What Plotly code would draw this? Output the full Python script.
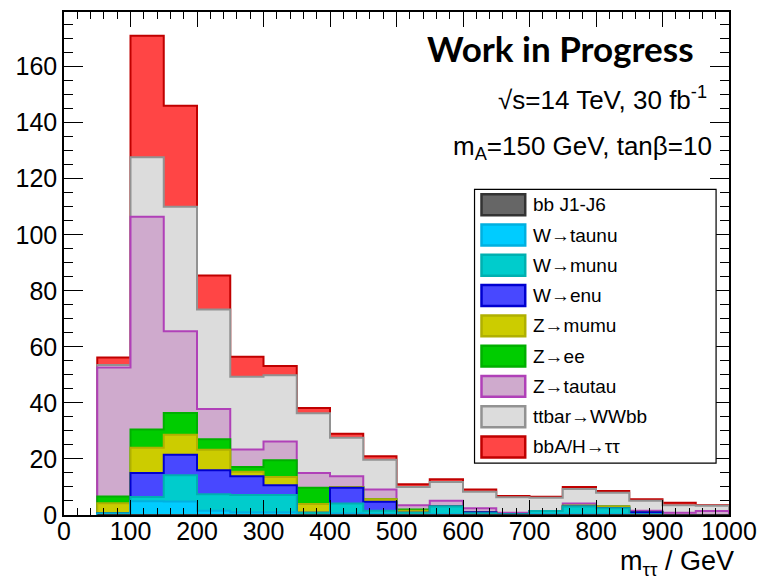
import numpy as np
import plotly.graph_objects as go

# ---------------- data ----------------
bin_edges = [50, 100, 150, 200, 250, 300, 350, 400, 450, 500, 550, 600, 650,
             700, 750, 800, 850, 900, 950, 1000]

bb_j1j6  = [0.0] * 19
w_taunu  = [0.3, 4.9, 4.8, 1.5, 1.0, 1.0, 0.0, 0.5, 0.3, 0.0, 0.3, 0.0, 0.0, 0.3, 0.3, 0.3, 0.0, 0.0, 0.0]
w_munu   = [0.3, 1.5, 9.4, 5.9, 6.1, 6.1, 0.8, 3.6, 1.2, 0.8, 2.7, 0.6, 0.3, 1.1, 2.7, 2.1, 0.3, 0.0, 0.0]
w_enu    = [0.0, 8.6, 7.3, 8.6, 6.7, 3.5, 0.0, 5.6, 3.2, 0.0, 0.0, 0.4, 0.0, 0.0, 0.0, 0.0, 0.7, 0.0, 0.0]
z_mumu   = [3.6, 9.0, 7.1, 7.3, 1.6, 3.0, 3.1, 0.3, 0.9, 0.7, 0.0, 0.0, 0.0, 0.0, 0.3, 0.6, 0.0, 0.0, 0.0]
z_ee     = [2.4, 6.5, 7.8, 3.7, 1.7, 5.9, 5.8, 0.0, 0.0, 0.5, 0.0, 0.0, 0.0, 0.0, 0.0, 0.0, 0.0, 0.0, 0.0]
z_tautau = [46.0, 75.9, 29.2, 10.8, 6.3, 6.7, 5.3, 3.8, 3.5, 1.5, 2.1, 1.4, 0.5, 0.0, 0.8, 0.0, 0.5, 0.8, 1.4]
ttbar    = [0.9, 21.3, 44.4, 35.5, 25.9, 23.7, 21.3, 13.8, 10.6, 6.5, 6.7, 5.9, 5.5, 4.8, 5.2, 4.9, 3.6, 2.7, 1.9]
signal   = [2.7, 43.3, 36.0, 12.2, 7.2, 3.3, 1.9, 1.4, 1.3, 1.0, 1.0, 0.8, 0.5, 0.3, 0.7, 0.7, 0.5, 0.9, 0.2]

series_names = ["bb J1-J6", "W→taunu", "W→munu", "W→enu", "Z→mumu", "Z→ee",
                "Z→tautau", "ttbar→WWbb", "bbA/H→ττ"]
series_values = [bb_j1j6, w_taunu, w_munu, w_enu, z_mumu, z_ee, z_tautau, ttbar, signal]
fill_colors = ["#666666", "#00ccff", "#00cccc", "#4848ff", "#cccc00", "#00cc00",
               "#cfaacd", "#dcdcdc", "#ff4545"]
line_colors = ["#333333", "#00b0e0", "#00b0b0", "#0000d0", "#b0b000", "#00b000",
               "#b040b8", "#929292", "#c00000"]

x_ticks = [0, 100, 200, 300, 400, 500, 600, 700, 800, 900, 1000]
y_ticks = [0, 20, 40, 60, 80, 100, 120, 140, 160]

# ---------------- geometry helpers (layout only) ----------------
W, H = 767, 581
ML, MR, MT, MB = 64, 34, 10, 66
PW, PH = W - ML - MR, H - MT - MB


def px(xp):
    return (xp - ML) / PW


def py(yp):
    return (H - MB - yp) / PH


fig = go.Figure()

cum = np.cumsum(np.array(series_values, dtype=float), axis=0)
edges = list(bin_edges)
# draw from top of stack down so lower components overlay
for i in reversed(range(len(series_names))):
    c = list(cum[i])
    xs = [edges[0]] + edges + [edges[-1]]
    ys = [0.0] + c + [c[-1], 0.0]
    fig.add_trace(go.Scatter(
        x=xs, y=ys, mode="lines", line=dict(shape="hv", color=line_colors[i], width=2),
        fill="tozeroy", fillcolor=fill_colors[i], name=series_names[i],
        showlegend=False, hoverinfo="skip"))

# ---------------- manual legend ----------------
shapes = []
annotations = []
shapes.append(dict(type="rect", xref="paper", yref="paper",
                   x0=px(477), x1=px(720), y0=py(463), y1=py(188),
                   line=dict(color="black", width=1.2), fillcolor="white", layer="above"))
row0, drow = 203.5, 30.4
for k, name in enumerate(series_names):
    yc = row0 + k * drow
    shapes.append(dict(type="rect", xref="paper", yref="paper",
                       x0=px(484), x1=px(528), y0=py(yc + 10.5), y1=py(yc - 10.5),
                       line=dict(color=line_colors[k], width=2.5),
                       fillcolor=fill_colors[k], layer="above"))
    annotations.append(dict(xref="paper", yref="paper", x=px(534), y=py(yc),
                            xanchor="left", yanchor="middle", showarrow=False,
                            text=name, font=dict(family="Liberation Sans", size=19, color="black")))

# ---------------- texts ----------------
annotations.append(dict(xref="paper", yref="paper", x=px(700), y=py(46),
                        xanchor="right", yanchor="middle", showarrow=False,
                        text="<b>Work in Progress</b>",
                        font=dict(family="Lato", size=35, color="black")))
annotations.append(dict(xref="paper", yref="paper", x=px(713), y=py(97),
                        xanchor="right", yanchor="middle", showarrow=False,
                        text="√s=14 TeV, 30 fb<sup>-1</sup>",
                        font=dict(family="Liberation Sans", size=26, color="black")))
annotations.append(dict(xref="paper", yref="paper", x=px(718), y=py(146),
                        xanchor="right", yanchor="middle", showarrow=False,
                        text="m<sub>A</sub>=150 GeV, tanβ=10",
                        font=dict(family="Liberation Sans", size=26, color="black")))
annotations.append(dict(xref="paper", yref="paper", x=px(740), y=py(563),
                        xanchor="right", yanchor="middle", showarrow=False,
                        text="m<sub>ττ</sub> / GeV",
                        font=dict(family="Liberation Sans", size=27, color="black")))

fig.update_layout(
    width=W, height=H,
    margin=dict(l=ML, r=MR, t=MT, b=MB, pad=0),
    paper_bgcolor="white", plot_bgcolor="white",
    shapes=shapes, annotations=annotations,
    font=dict(family="Liberation Sans", size=25, color="black"),
)
fig.update_xaxes(
    range=[0, 1000], tickvals=x_ticks, ticktext=[str(v) for v in x_ticks],
    showgrid=False, zeroline=False, showline=True, linecolor="black", linewidth=1.5,
    mirror="allticks", ticks="inside", ticklen=15, tickwidth=1.3, tickcolor="black",
    minor=dict(dtick=20, tick0=0, ticks="inside", ticklen=7, tickwidth=1.3, tickcolor="black"),
    tickfont=dict(size=25, family="Liberation Sans"), ticklabelstandoff=-7,
)
fig.update_yaxes(
    range=[0, 179.5], tickvals=y_ticks, ticktext=[str(v) for v in y_ticks],
    showgrid=False, zeroline=False, showline=True, linecolor="black", linewidth=1.5,
    mirror="allticks", ticks="inside", ticklen=19, tickwidth=1.3, tickcolor="black",
    minor=dict(dtick=5, tick0=0, ticks="inside", ticklen=9, tickwidth=1.3, tickcolor="black"),
    tickfont=dict(size=25, family="Liberation Sans"),
)

fig.write_html("out.html")
